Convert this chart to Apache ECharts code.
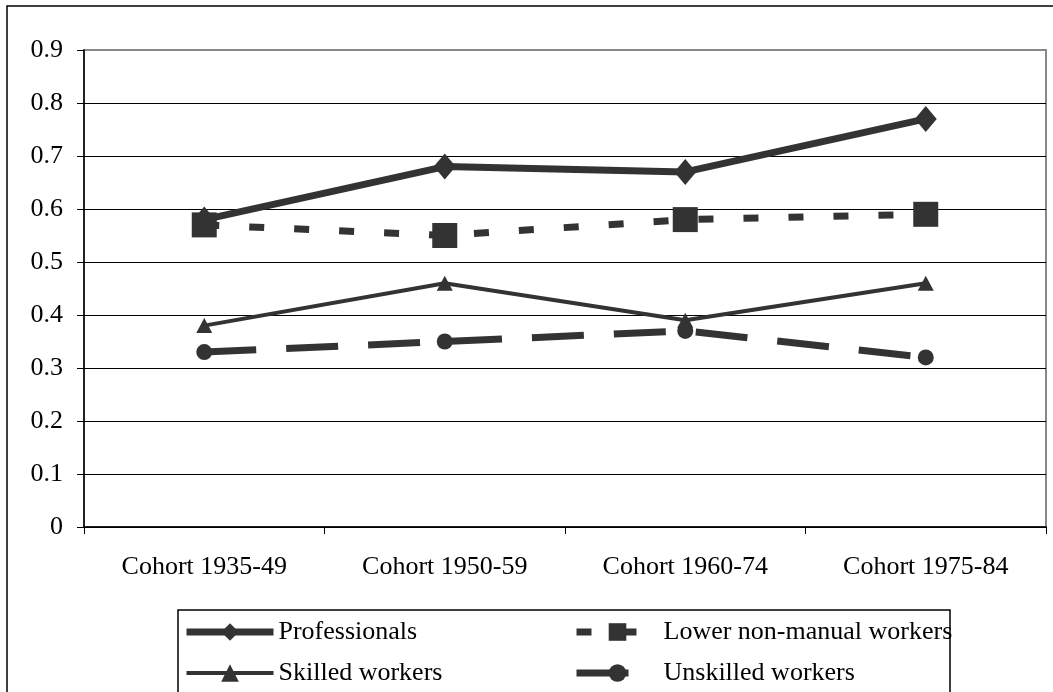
<!DOCTYPE html>
<html>
<head>
<meta charset="utf-8">
<script src="https://cdn.jsdelivr.net/npm/echarts@6/dist/echarts.min.js"></script>
<style>
  html, body { margin: 0; padding: 0; background: #fff; }
  #main { width: 1053px; height: 692px; }
</style>
</head>
<body>
<div id="main"></div>
<script>
// data
var cohorts = ['Cohort 1935-49', 'Cohort 1950-59', 'Cohort 1960-74', 'Cohort 1975-84'];
var professionals = [0.58, 0.68, 0.67, 0.77];
var lowerNonManual = [0.57, 0.55, 0.58, 0.59];
var skilled = [0.38, 0.46, 0.39, 0.46];
var unskilled = [0.33, 0.35, 0.37, 0.32];

var font = '"Liberation Serif", "Times New Roman", serif';
var ink = '#333333';

var chart = echarts.init(document.getElementById('main'));

var option = {
    animation: false,
    backgroundColor: '#fff',
    textStyle: { fontFamily: font },
    grid: {
        left: 84, right: 7, top: 50, bottom: 165,
        show: true, borderColor: '#888', borderWidth: 2, backgroundColor: 'transparent'
    },
    xAxis: {
        type: 'category',
        data: cohorts,
        boundaryGap: true,
        axisLine: { lineStyle: { color: '#000', width: 1.5 } },
        axisTick: { show: true, inside: false, length: 7, interval: 0, lineStyle: { color: '#000' } },
        axisLabel: { color: '#000', fontFamily: font, fontSize: 26, margin: 27, interval: 0 },
        splitLine: { show: false }
    },
    yAxis: {
        type: 'value',
        min: 0, max: 0.9, interval: 0.1,
        axisLine: { show: true, lineStyle: { color: '#000', width: 1.5 } },
        axisTick: { show: true, inside: false, length: 7, lineStyle: { color: '#000' } },
        axisLabel: {
            color: '#000', fontFamily: font, fontSize: 26, margin: 21,
            formatter: function (v) { return v === 0 ? '0' : v.toFixed(1); }
        },
        splitLine: { show: true, showMaxLine: false, lineStyle: { color: '#000', width: 1 } }
    },
    legend: [
        {
            orient: 'vertical',
            left: 183, top: 619, height: 100, padding: 0,
            itemWidth: 87, itemHeight: 22, itemGap: 15,
            textStyle: { color: '#000', fontFamily: font, fontSize: 26 },
            data: [
                { name: 'Professionals', lineStyle: { width: 7 } },
                { name: 'Skilled workers', lineStyle: { width: 4 } }
            ]
        },
        {
            orient: 'vertical',
            left: 573, top: 619, height: 100, padding: 0,
            itemWidth: 82, itemHeight: 22, itemGap: 15,
            textStyle: { color: '#000', fontFamily: font, fontSize: 26 },
            data: [
                { name: 'Lower non-manual workers', lineStyle: { width: 7 } },
                { name: 'Unskilled workers', lineStyle: { width: 7 } }
            ]
        }
    ],
    graphic: [
        {
            type: 'rect', silent: true,
            shape: { x: 7, y: 6, width: 1100, height: 800 },
            style: { fill: 'none', stroke: '#000', lineWidth: 1.5 }
        },
        {
            type: 'rect', silent: true,
            shape: { x: 178, y: 610, width: 772, height: 200 },
            style: { fill: 'none', stroke: '#000', lineWidth: 1.5 }
        }
    ],
    series: [
        {
            name: 'Professionals', type: 'line', data: professionals,
            symbol: 'diamond', symbolSize: [22, 26],
            lineStyle: { color: ink, width: 7 },
            itemStyle: { color: ink }, z: 4
        },
        {
            name: 'Lower non-manual workers', type: 'line', data: lowerNonManual,
            symbol: 'rect', symbolSize: 25,
            lineStyle: { color: ink, width: 7, type: [15, 30] },
            itemStyle: { color: ink }, z: 3
        },
        {
            name: 'Skilled workers', type: 'line', data: skilled,
            symbol: 'triangle', symbolSize: [16, 15],
            lineStyle: { color: ink, width: 4 },
            itemStyle: { color: ink }, z: 2
        },
        {
            name: 'Unskilled workers', type: 'line', data: unskilled,
            symbol: 'circle', symbolSize: 16,
            lineStyle: { color: ink, width: 7, type: [52, 30] },
            itemStyle: { color: ink }, z: 1
        }
    ]
};

chart.setOption(option);
</script>
</body>
</html>
